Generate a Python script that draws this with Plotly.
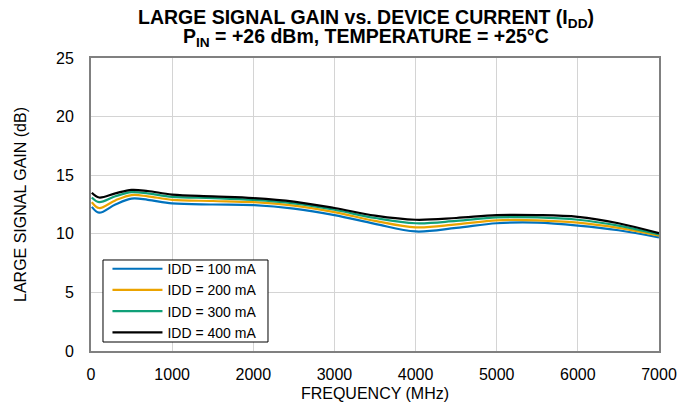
import plotly.graph_objects as go

# Frequency points (MHz) and large-signal gain (dB) for each device current
freq_mhz = [10, 100, 300, 500, 700, 1000, 1500, 2000, 2500, 3000, 3500, 4000, 4500, 5000, 5500, 6000, 6500, 7000]
gain_100ma = [12.3, 11.8, 12.5, 13.0, 12.9, 12.6, 12.5, 12.45, 12.15, 11.6, 10.85, 10.2, 10.5, 10.9, 10.95, 10.7, 10.3, 9.7]
gain_200ma = [12.7, 12.2, 12.85, 13.3, 13.2, 12.9, 12.8, 12.7, 12.4, 11.85, 11.1, 10.55, 10.8, 11.15, 11.15, 10.95, 10.5, 9.85]
gain_300ma = [13.1, 12.7, 13.2, 13.55, 13.45, 13.15, 13.05, 12.9, 12.6, 12.05, 11.35, 10.9, 11.1, 11.4, 11.4, 11.2, 10.7, 9.95]
gain_400ma = [13.5, 13.1, 13.45, 13.75, 13.65, 13.35, 13.2, 13.05, 12.75, 12.2, 11.55, 11.2, 11.35, 11.6, 11.6, 11.45, 10.9, 10.05]

series_names = ["IDD = 100 mA", "IDD = 200 mA", "IDD = 300 mA", "IDD = 400 mA"]
series_values = [gain_100ma, gain_200ma, gain_300ma, gain_400ma]
series_colors = ["#0072BD", "#EBA300", "#10A078", "#000000"]

x_ticks = [0, 1000, 2000, 3000, 4000, 5000, 6000, 7000]
y_ticks = [0, 5, 10, 15, 20, 25]

title_lines = [
    "<b>LARGE SIGNAL GAIN vs. DEVICE CURRENT (I<sub>DD</sub>)</b>",
    "<b>P<sub>IN</sub> = +26 dBm, TEMPERATURE = +25°C</b>",
]

fig = go.Figure()
for name, vals, color in zip(series_names, series_values, series_colors):
    fig.add_trace(go.Scatter(
        x=freq_mhz, y=vals, name=name, mode="lines",
        line=dict(color=color, width=2.2, shape="spline", smoothing=1.0),
    ))

font_family = "Liberation Sans, Arial, sans-serif"

# Two-line bold title, set tight above the plot frame
for text, ypos in zip(title_lines, [1.135, 1.07]):
    fig.add_annotation(
        text=text, xref="paper", yref="paper", x=0.484, y=ypos,
        xanchor="center", yanchor="middle", showarrow=False,
        font=dict(size=19.5, family=font_family, color="black"),
    )

# Legend frame
fig.add_shape(
    type="rect", xref="paper", yref="paper",
    x0=0.0211, x1=0.3116, y0=0.0307, y1=0.3106,
    line=dict(color="black", width=1), fillcolor="white", layer="above",
)

fig.update_layout(
    width=697, height=409,
    margin=dict(l=91, r=38, t=58, b=58),
    paper_bgcolor="white", plot_bgcolor="white",
    font=dict(family=font_family, size=16, color="black"),
    showlegend=True,
    legend=dict(
        x=0.029, y=0.334, xanchor="left", yanchor="top",
        bgcolor="rgba(0,0,0,0)", borderwidth=0,
        font=dict(size=14, family=font_family),
        tracegroupgap=0, itemwidth=50,
    ),
)

fig.update_xaxes(
    range=[0, 7000], tickvals=x_ticks, ticks="", ticklabelstandoff=8,
    showgrid=True, gridcolor="#D4D4D4", gridwidth=1,
    showline=True, linecolor="#808080", linewidth=2, mirror=True,
    zeroline=False, automargin=False,
    title=dict(text="FREQUENCY (MHz)", standoff=6, font=dict(size=16)),
    tickfont=dict(size=16),
)
fig.update_yaxes(
    range=[0, 25], tickvals=y_ticks, ticks="", ticklabelstandoff=12,
    showgrid=True, gridcolor="#D4D4D4", gridwidth=1,
    showline=True, linecolor="#808080", linewidth=2, mirror=True,
    zeroline=False, automargin=False,
    title=dict(text="LARGE SIGNAL GAIN (dB)", standoff=25, font=dict(size=16)),
    tickfont=dict(size=16),
)

fig.write_html("out.html")
